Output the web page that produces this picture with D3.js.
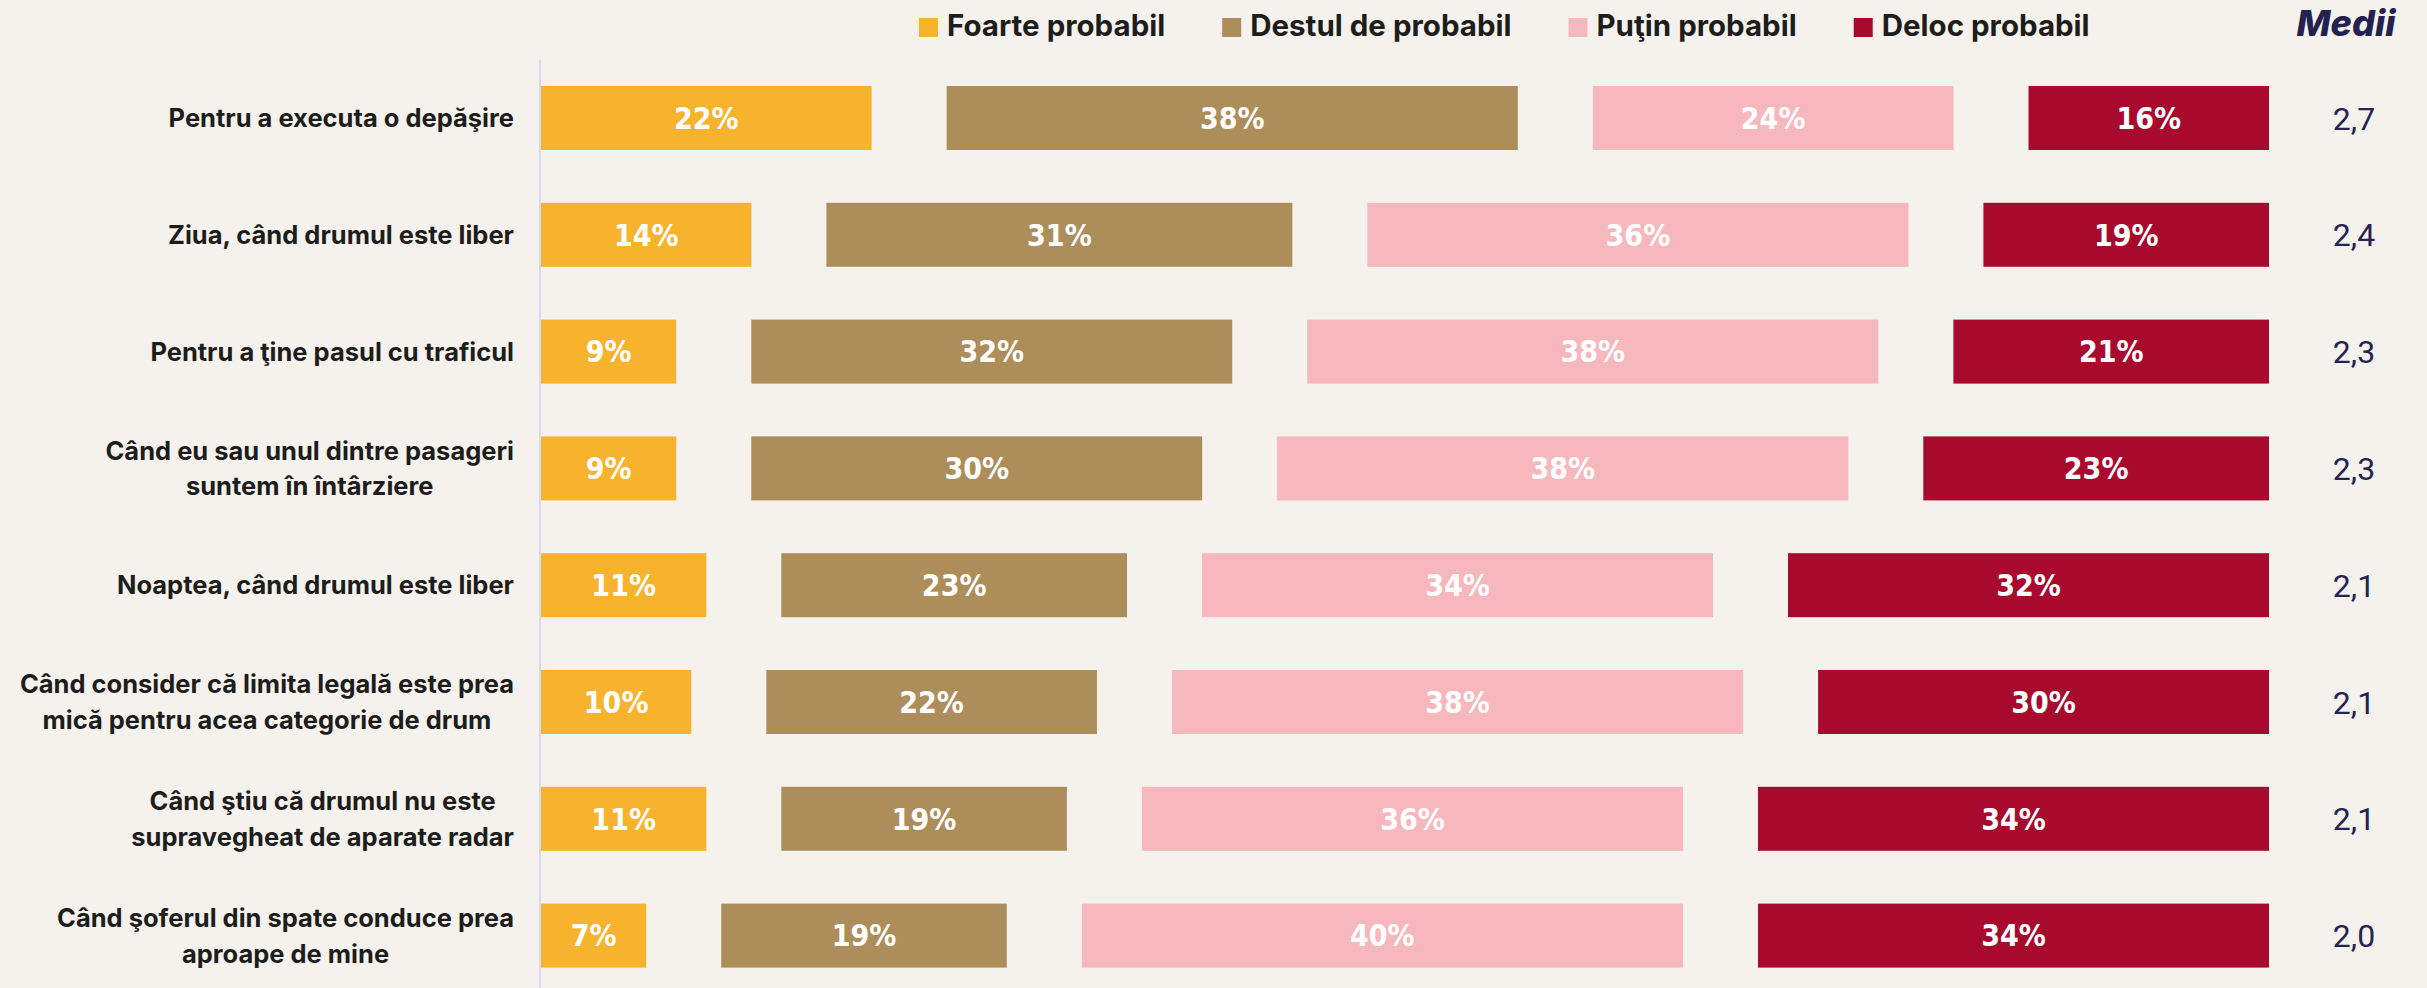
<!DOCTYPE html>
<html>
<head>
<meta charset="utf-8">
<script src="https://cdn.jsdelivr.net/npm/d3@7"></script>
<style>
  html, body { margin: 0; padding: 0; background: #f5f2ee; }
  svg { display: block; }
</style>
</head>
<body>
<svg width="2427" height="988"></svg>
<script>
// chart data
const categories = [
  'Pentru a executa o depăşire',
  'Ziua, când drumul este liber',
  'Pentru a ţine pasul cu traficul',
  'Când eu sau unul dintre pasageri\nsuntem în întârziere',
  'Noaptea, când drumul este liber',
  'Când consider că limita legală este prea\nmică pentru acea categorie de drum',
  'Când ştiu că drumul nu este\nsupravegheat de aparate radar',
  'Când şoferul din spate conduce prea\naproape de mine'
];
const seriesNames = ['Foarte probabil', 'Destul de probabil', 'Puţin probabil', 'Deloc probabil'];
const foarte = [22, 14, 9, 9, 11, 10, 11, 7];
const destul = [38, 31, 32, 30, 23, 22, 19, 19];
const putin = [24, 36, 38, 38, 34, 38, 36, 40];
const deloc = [16, 19, 21, 23, 32, 30, 34, 34];
const medii = ['2,7', '2,4', '2,3', '2,3', '2,1', '2,1', '2,1', '2,0'];

const colors = ['#f7b32d', '#ad8e5a', '#f6b8bd', '#a80a2e'];
const series = [foarte, destul, putin, deloc];

var svg = d3.select('svg');

var barLeft = 541;
var gap = 75;

var xScale = d3.scaleLinear().domain([0, 100]).range([0, 1503]);

var yScale = d3.scaleBand()
  .domain(d3.range(categories.length))
  .range([59.6, 994])
  .paddingInner(0.452)
  .paddingOuter(0.226);

// vertical axis line
svg.append('line')
  .attr('x1', 540).attr('x2', 540)
  .attr('y1', 60).attr('y2', 988)
  .attr('stroke', '#d8d8f0')
  .attr('stroke-width', 2);

// build segments
var segments = [];
categories.forEach(function (c, i) {
  var cum = 0;
  series.forEach(function (s, k) {
    segments.push({ row: i, k: k, value: s[i], start: cum });
    cum += s[i];
  });
});

var segX = function (d) { return barLeft + xScale(d.start) + d.k * gap; };

var bars = svg.append('g').attr('class', 'bars');

bars.selectAll('rect')
  .data(segments)
  .enter()
  .append('rect')
  .attr('x', segX)
  .attr('y', function (d) { return yScale(d.row); })
  .attr('width', function (d) { return xScale(d.value); })
  .attr('height', yScale.bandwidth())
  .attr('fill', function (d) { return colors[d.k]; });

bars.selectAll('text')
  .data(segments)
  .enter()
  .append('text')
  .attr('x', function (d) { return segX(d) + xScale(d.value) / 2; })
  .attr('y', function (d) { return yScale(d.row) + yScale.bandwidth() / 2; })
  .attr('dy', '0.36em')
  .attr('text-anchor', 'middle')
  .attr('fill', '#fff')
  .attr('font-family', "'Liberation Sans Narrow', 'DejaVu Sans Condensed', Roboto, sans-serif")
  .attr('font-weight', 700)
  .attr('font-size', 30)
  .text(function (d) { return d.value + '%'; });

// category labels: block right-aligned, lines centred inside
var labelRight = 514;
var lineH = 35.6;
var labels = svg.append('g')
  .attr('font-family', "Inter, 'Open Sans', sans-serif")
  .attr('font-weight', 700)
  .attr('font-size', 25.5)
  .attr('fill', '#1d1d1b');

categories.forEach(function (c, i) {
  var lines = c.split('\n');
  var t = labels.append('text')
    .attr('text-anchor', 'middle');
  var cy = yScale(i) + yScale.bandwidth() / 2;
  var y0 = cy - (lines.length - 1) * lineH / 2;
  var spans = lines.map(function (l, j) {
    return t.append('tspan').attr('y', y0 + j * lineH).attr('dy', '0.36em').text(l);
  });
  var maxW = d3.max(spans, function (s) { return s.node().getComputedTextLength(); });
  spans.forEach(function (s) { s.attr('x', labelRight - maxW / 2); });
});

// averages column
svg.append('text')
  .attr('x', 2346)
  .attr('y', 36)
  .attr('text-anchor', 'middle')
  .attr('font-family', "Inter, 'Open Sans', sans-serif")
  .attr('font-weight', 800)
  .attr('font-style', 'italic')
  .attr('font-size', 36)
  .attr('fill', '#232150')
  .text('Medii');

svg.append('g')
  .selectAll('text')
  .data(medii)
  .enter()
  .append('text')
  .attr('x', 2354)
  .attr('y', function (d, i) { return yScale(i) + yScale.bandwidth() / 2; })
  .attr('dy', '0.36em')
  .attr('text-anchor', 'middle')
  .attr('font-family', "Roboto, 'DejaVu Sans', sans-serif")
  .attr('font-weight', 400)
  .attr('font-size', 32)
  .attr('fill', '#25234f')
  .text(function (d) { return d; });

// legend
var legend = svg.append('g').attr('class', 'legend');
var lx = 919;
seriesNames.forEach(function (name, k) {
  legend.append('rect')
    .attr('x', lx).attr('y', 18)
    .attr('width', 19).attr('height', 19)
    .attr('fill', colors[k]);
  var t = legend.append('text')
    .attr('x', lx + 28)
    .attr('y', 36)
    .attr('font-family', "Inter, 'Open Sans', sans-serif")
    .attr('font-weight', 700)
    .attr('font-size', 29.5)
    .attr('fill', '#1d1d1b')
    .text(name);
  lx += 28 + t.node().getComputedTextLength() + 57;
});
</script>
</body>
</html>
